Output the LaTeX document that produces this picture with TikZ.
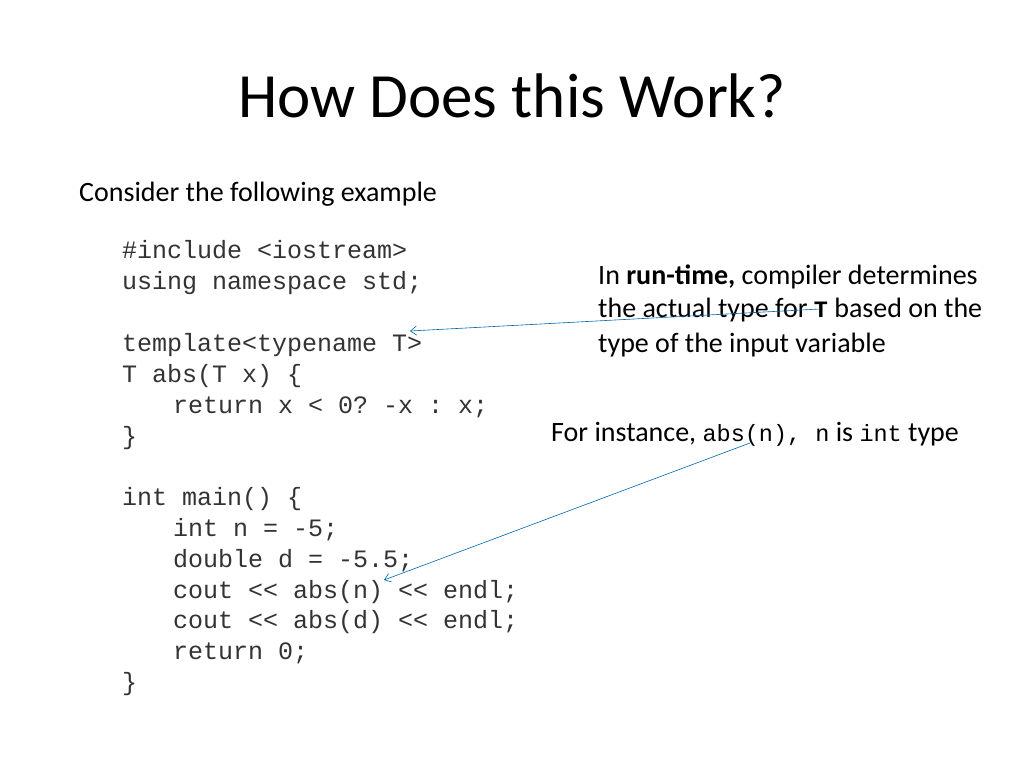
\documentclass[tikz,border=0pt]{standalone}
\usepackage{fontspec}
\setmainfont{Carlito}
\setmonofont{Liberation Mono}
\tikzset{
  codeline/.style={anchor=base west, inner sep=0pt, font=\fontsize{25}{31}\ttfamily, text=black!80},
  noteline/.style={anchor=base west, inner sep=0pt, font=\fontsize{28}{31}\selectfont},
  callout/.style={draw=blue!45!black!60!cyan, line width=0.6pt, -{Straight Barb[length=6pt,width=9pt]}}
}
\usetikzlibrary{arrows.meta}
\newcommand{\cd}[1]{{\fontsize{23.5}{31}\ttfamily #1}}
\begin{document}
\begin{tikzpicture}[x=1pt,y=-1pt]
\useasboundingbox (0,0) rectangle (1024,768);
% title
\node[anchor=base, inner sep=0pt, font=\fontsize{63}{66}\selectfont] (title) at (512,117) {How Does this Work?};
\node[noteline] (intro) at (79,201) {Consider the following example};
% code
\node[codeline] (c1) at (122,258) {\#include <iostream>};
\node[codeline] (c2) at (122,289) {using namespace std;};
\node[codeline] (c3) at (122,351) {template<typename T>};
\node[codeline] (c4) at (122,382) {T abs(T x) \{};
\node[codeline] (c5) at (173,413) {return x < 0? -x : x;};
\node[codeline] (c6) at (122,444) {\}};
\node[codeline] (c7) at (122,505) {int main() \{};
\node[codeline] (c8) at (173,536) {int n = -5;};
\node[codeline] (c9) at (173,567) {double d = -5.5;};
\node[codeline] (c10) at (173,598) {cout << abs(n) << endl;};
\node[codeline] (c11) at (173,628) {cout << abs(d) << endl;};
\node[codeline] (c12) at (173,659) {return 0;};
\node[codeline] (c13) at (122,690) {\}};
% notes
\node[noteline] (n1) at (598,284) {In \textbf{run-time,} compiler determines};
\node[noteline] (n2) at (598,317) {the actual type for \textbf{\cd{T}} based on the};
\node[noteline] (n3) at (598,352) {type of the input variable};
\node[noteline] (n4) at (551,441) {For instance, \cd{abs(n), n} is \cd{int} type};
% arrows
\coordinate (p1) at (820,309);
\coordinate (q1) at (410,331);
\coordinate (p2) at (750,443);
\coordinate (q2) at (384,580);
\draw[callout] (p1) -- (q1);
\draw[callout] (p2) -- (q2);
\end{tikzpicture}
\end{document}
